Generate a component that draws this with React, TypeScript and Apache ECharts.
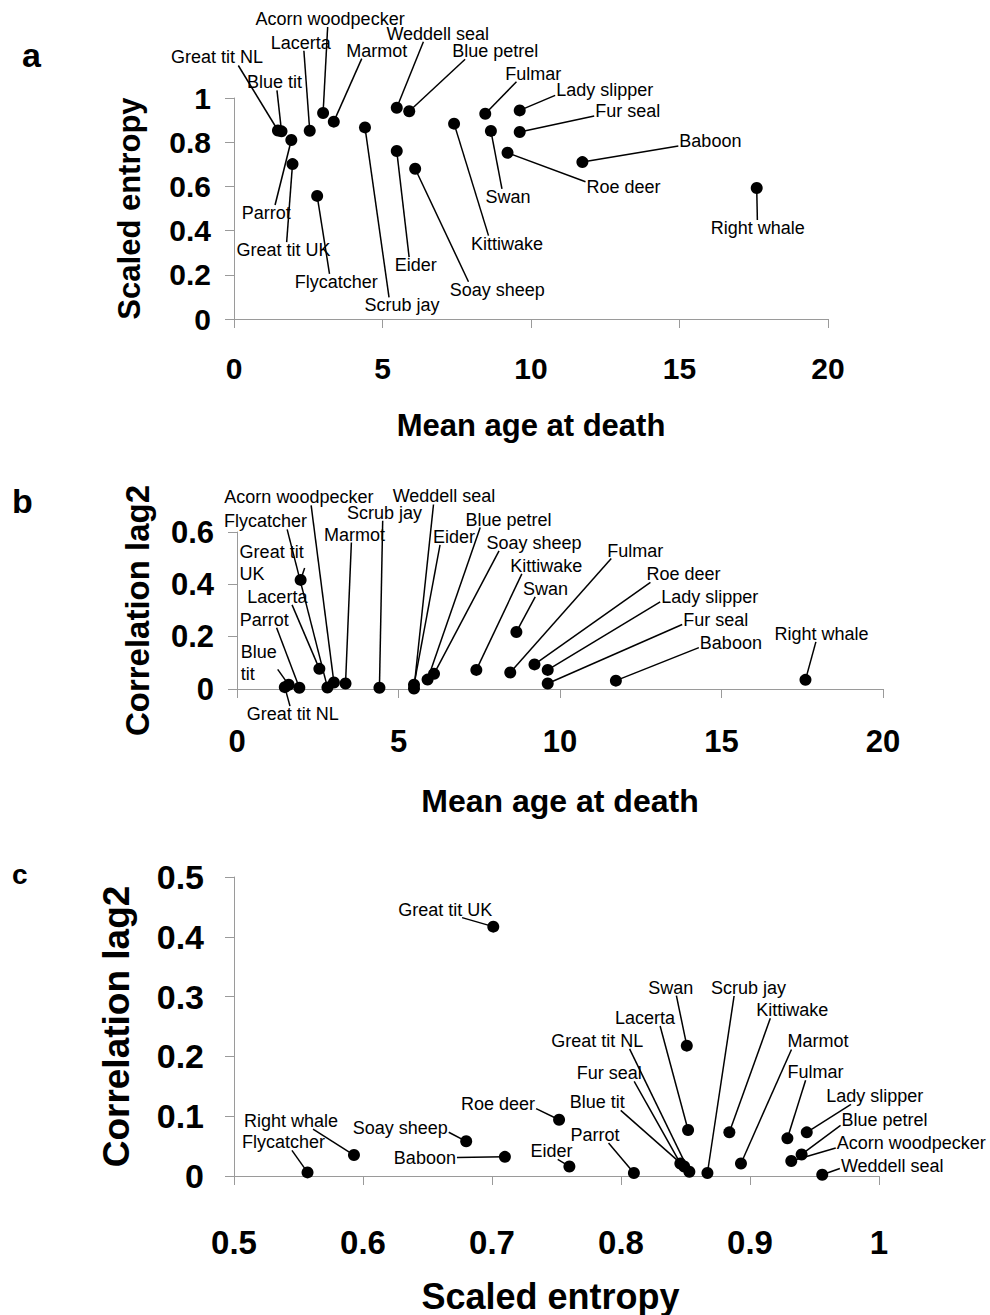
import React, { useEffect, useRef } from 'react';
import * as echarts from 'echarts';

// ---- Data ----
const SPECIES = [
  'Great tit NL', 'Blue tit', 'Parrot', 'Lacerta', 'Acorn woodpecker', 'Marmot',
  'Great tit UK', 'Flycatcher', 'Scrub jay', 'Weddell seal', 'Blue petrel', 'Eider',
  'Soay sheep', 'Kittiwake', 'Fulmar', 'Swan', 'Lady slipper', 'Fur seal',
  'Roe deer', 'Baboon', 'Right whale',
];
const MEAN_AGE = [1.48, 1.6, 1.93, 2.55, 3.0, 3.36, 1.97, 2.8, 4.41, 5.48, 5.9, 5.48, 6.1, 7.41, 8.46, 8.65, 9.62, 9.62, 9.21, 11.73, 17.6];
const SCALED_ENTROPY = [0.853, 0.849, 0.81, 0.852, 0.932, 0.893, 0.701, 0.557, 0.867, 0.956, 0.94, 0.76, 0.68, 0.884, 0.929, 0.851, 0.944, 0.846, 0.752, 0.71, 0.593];
const CORR_LAG2 = [0.007, 0.016, 0.005, 0.077, 0.025, 0.021, 0.417, 0.006, 0.005, 0.002, 0.036, 0.016, 0.058, 0.073, 0.063, 0.218, 0.073, 0.021, 0.094, 0.032, 0.035];

const AGE_TICKS = [0, 20, 5];
const ENTROPY_TICKS = [0, 1, 0.2];
const CORR_B_TICKS = [0, 0.6, 0.2];
const CORR_C_TICKS = [0, 0.5, 0.1];
const ENTROPY_C_TICKS = [0.5, 1, 0.1];

// Panel b shows two names broken over two lines
const NAME_B: Record<string, string> = { 'Great tit UK': 'Great tit\nUK', 'Blue tit': 'Blue\ntit' };

// ---- Layout: label centre offset (px) from its point ----
const LABEL_A: Record<string, [number, number]> = {
  'Great tit NL': [-61, -73], 'Blue tit': [-7, -49], 'Parrot': [-25, 73], 'Lacerta': [-9, -88],
  'Acorn woodpecker': [7, -94], 'Marmot': [43, -71], 'Great tit UK': [-9, 86], 'Flycatcher': [19, 86],
  'Scrub jay': [37, 178], 'Weddell seal': [41, -74], 'Blue petrel': [86, -60], 'Eider': [19, 114],
  'Soay sheep': [82, 121], 'Kittiwake': [53, 120], 'Fulmar': [48, -40], 'Swan': [17, 66],
  'Lady slipper': [85, -20], 'Fur seal': [108, -21], 'Roe deer': [116, 34], 'Baboon': [128, -21],
  'Right whale': [1, 40],
};
const LABEL_B: Record<string, [number, number]> = {
  'Acorn woodpecker': [-35, -185], 'Flycatcher': [-62, -166], 'Great tit UK': [-29, -17], 'Lacerta': [-42, -72],
  'Parrot': [-35, -68], 'Blue tit': [-30, -22], 'Great tit NL': [8, 27], 'Marmot': [9, -149],
  'Scrub jay': [5, -175], 'Weddell seal': [30, -192], 'Eider': [40, -148], 'Blue petrel': [81, -160],
  'Soay sheep': [100, -131], 'Kittiwake': [70, -104], 'Swan': [29, -43], 'Fulmar': [125, -122],
  'Roe deer': [149, -90], 'Lady slipper': [162, -73], 'Fur seal': [168, -64], 'Baboon': [115, -38],
  'Right whale': [16, -46],
};
const LABEL_C: Record<string, [number, number]> = {
  'Great tit UK': [-48, -17], 'Right whale': [-63, -34], 'Flycatcher': [-24, -30], 'Soay sheep': [-66, -13],
  'Baboon': [-80, 1], 'Roe deer': [-61, -16], 'Eider': [-18, -15], 'Parrot': [-39, -38],
  'Blue tit': [-87, -64], 'Fur seal': [-71, -90], 'Great tit NL': [-92, -131], 'Lacerta': [-43, -112],
  'Swan': [-16, -58], 'Scrub jay': [41, -185], 'Kittiwake': [63, -122], 'Marmot': [77, -122],
  'Fulmar': [28, -66], 'Lady slipper': [68, -36], 'Blue petrel': [83, -34], 'Acorn woodpecker': [120, -18],
  'Weddell seal': [70, -9],
};

const FONT = '"Liberation Sans", Arial, Helvetica, sans-serif';
const AXIS_GREY = '#9a9a9a';
const LABEL_SIZE = 18;
const LINE_H = 18;
const MULTI_LINE_H = 22;

let measureCtx: CanvasRenderingContext2D | null = null;
function textWidth(t: string) {
  if (!measureCtx) measureCtx = document.createElement('canvas').getContext('2d');
  if (!measureCtx) return t.length * 9;
  measureCtx.font = `${LABEL_SIZE}px ${FONT}`;
  return measureCtx.measureText(t).width;
}
const clamp = (v: number, lo: number, hi: number) => Math.max(lo, Math.min(hi, v));

function valueAxis(ticks: number[], gridIndex: number, opts: any) {
  return {
    type: 'value',
    gridIndex,
    min: ticks[0],
    max: ticks[1],
    interval: ticks[2],
    axisLine: { show: true, lineStyle: { color: AXIS_GREY, width: 1 } },
    axisTick: { show: true, inside: false, length: 9, lineStyle: { color: AXIS_GREY, width: 1 } },
    splitLine: { show: false },
    axisLabel: {
      color: '#000', fontWeight: 'bold', fontFamily: FONT,
      fontSize: opts.labelSize, margin: opts.labelMargin,
    },
    name: opts.name,
    nameLocation: 'middle',
    nameGap: opts.nameGap,
    nameTextStyle: {
      color: '#000', fontWeight: 'bold', fontFamily: FONT, fontSize: opts.nameSize,
      padding: opts.namePadding || 0,
    },
  };
}

function scatterSeries(idx: number, xs: number[], ys: number[], offsets: Record<string, [number, number]>, nameMap?: Record<string, string>) {
  return {
    type: 'scatter',
    xAxisIndex: idx,
    yAxisIndex: idx,
    symbol: 'circle',
    symbolSize: 12,
    z: 3,
    itemStyle: { color: '#000', opacity: 1 },
    emphasis: { disabled: true },
    data: SPECIES.map((n, i) => {
      const multi = !!(nameMap && nameMap[n]);
      return multi
        ? { name: n, value: [xs[i], ys[i]], label: { lineHeight: MULTI_LINE_H } }
        : { name: n, value: [xs[i], ys[i]] };
    }),
    label: {
      show: true,
      position: 'inside',
      color: '#000',
      fontSize: LABEL_SIZE,
      fontFamily: FONT,
      lineHeight: LINE_H,
      formatter: (p: any) => (nameMap && nameMap[p.name]) || p.name,
    },
    labelLayout: (params: any) => {
      const name = SPECIES[params.dataIndex];
      const off = offsets[name] || [0, 0];
      const r = params.rect;
      const cx = r.x + r.width / 2 + off[0];
      const cy = r.y + r.height / 2 + off[1];
      const multi = !!(nameMap && nameMap[name]);
      if (multi) {
        return { x: cx - params.labelRect.width / 2, y: cy, align: 'left', verticalAlign: 'middle' };
      }
      return { x: cx, y: cy, align: 'center', verticalAlign: 'middle' };
    },
  };
}

// Leader lines from each point to the edge of its label
function leaderSeries(idx: number, xs: number[], ys: number[], offsets: Record<string, [number, number]>, nameMap?: Record<string, string>) {
  return {
    type: 'custom',
    xAxisIndex: idx,
    yAxisIndex: idx,
    z: 2,
    silent: true,
    encode: { x: 0, y: 1 },
    data: SPECIES.map((_, i) => [xs[i], ys[i], i]),
    renderItem: (_params: any, api: any) => {
      const i = api.value(2);
      const p = api.coord([api.value(0), api.value(1)]);
      const name = SPECIES[i];
      const text = (nameMap && nameMap[name]) || name;
      const lines = text.split('\n');
      const w = Math.max(...lines.map(textWidth));
      const h = lines.length * (lines.length > 1 ? MULTI_LINE_H : LINE_H);
      const off = offsets[name] || [0, 0];
      const cx = p[0] + off[0];
      const cy = p[1] + off[1];
      const hw = w / 2;
      const hh = h / 2;
      const adx = Math.abs(off[0]);
      const ady = Math.abs(off[1]);
      let ax: number;
      let ay: number;
      if (ady <= hh + 2 || (adx > hw + 10 && ady < 0.5 * adx)) {
        ax = cx + Math.sign(p[0] - cx) * (hw + 1);
        ay = cy + clamp(0.3 * (p[1] - cy), -hh + 4, hh - 4);
      } else {
        ay = cy + Math.sign(p[1] - cy) * (hh - 1);
        ax = cx + clamp(0.35 * (p[0] - cx), -hw + 4, hw - 4);
      }
      return {
        type: 'line',
        shape: { x1: p[0], y1: p[1], x2: ax, y2: ay },
        style: { stroke: '#000', lineWidth: 1.5 },
      };
    },
  };
}

export default function App() {
  const ref = useRef<HTMLDivElement>(null);
  useEffect(() => {
    if (!ref.current) return;
    const chart = echarts.init(ref.current, undefined, { renderer: 'svg' });
    chart.setOption({
      animation: false,
      backgroundColor: '#fff',
      grid: [
        { left: 234, top: 98, width: 594, height: 221 },
        { left: 237, top: 532, width: 646, height: 157 },
        { left: 234, top: 877, width: 645, height: 300 },
      ],
      xAxis: [
        valueAxis(AGE_TICKS, 0, { name: 'Mean age at death', labelSize: 30, labelMargin: 34, nameGap: 91, nameSize: 31 }),
        valueAxis(AGE_TICKS, 1, { name: 'Mean age at death', labelSize: 31, labelMargin: 37, nameGap: 96, nameSize: 32 }),
        valueAxis(ENTROPY_C_TICKS, 2, { name: 'Scaled entropy', labelSize: 33, labelMargin: 50, nameGap: 102, nameSize: 36, namePadding: [0, 12, 0, 0] }),
      ],
      yAxis: [
        valueAxis(ENTROPY_TICKS, 0, { name: 'Scaled entropy', labelSize: 30, labelMargin: 23, nameGap: 89, nameSize: 31 }),
        valueAxis(CORR_B_TICKS, 1, { name: 'Correlation lag2', labelSize: 31, labelMargin: 23, nameGap: 83, nameSize: 33 }),
        valueAxis(CORR_C_TICKS, 2, { name: 'Correlation lag2', labelSize: 34, labelMargin: 30, nameGap: 99, nameSize: 37 }),
      ],
      series: [
        leaderSeries(0, MEAN_AGE, SCALED_ENTROPY, LABEL_A),
        leaderSeries(1, MEAN_AGE, CORR_LAG2, LABEL_B, NAME_B),
        leaderSeries(2, SCALED_ENTROPY, CORR_LAG2, LABEL_C),
        scatterSeries(0, MEAN_AGE, SCALED_ENTROPY, LABEL_A),
        scatterSeries(1, MEAN_AGE, CORR_LAG2, LABEL_B, NAME_B),
        scatterSeries(2, SCALED_ENTROPY, CORR_LAG2, LABEL_C),
      ],
      graphic: [
        { type: 'text', left: 22, top: 38, style: { text: 'a', fontSize: 34, fontWeight: 'bold', fontFamily: FONT, fill: '#000' } },
        { type: 'text', left: 12, top: 484, style: { text: 'b', fontSize: 34, fontWeight: 'bold', fontFamily: FONT, fill: '#000' } },
        { type: 'text', left: 12, top: 860, style: { text: 'c', fontSize: 28, fontWeight: 'bold', fontFamily: FONT, fill: '#000' } },
      ],
    });
    return () => chart.dispose();
  }, []);
  return <div ref={ref} style={{ position: 'absolute', left: 0, top: 0, width: 990, height: 1315 }} />;
}
